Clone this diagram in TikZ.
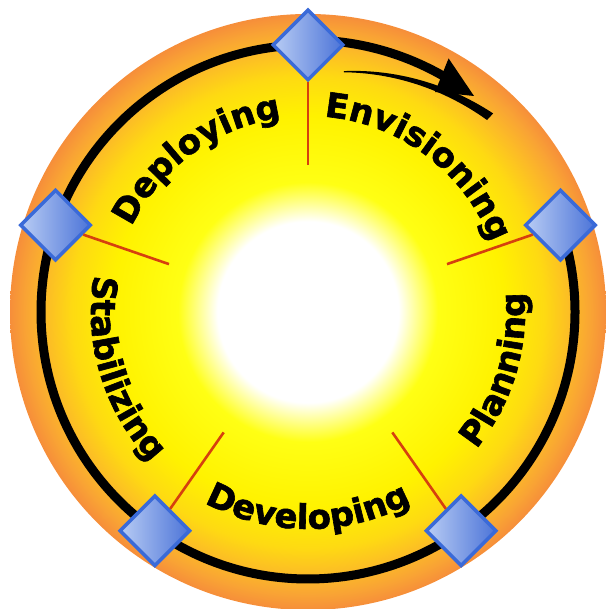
\documentclass[tikz,border=0pt]{standalone}
\usepackage{fontspec}
\newfontfamily\lblfont{DejaVu Sans}[BoldFeatures={FakeBold=1.8}]
\usetikzlibrary{decorations.text,shapes.geometric}
\definecolor{ylwA}{RGB}{255,255,20}
\definecolor{ylwB}{RGB}{255,242,0}
\definecolor{ylwC}{RGB}{254,218,18}
\definecolor{orgA}{RGB}{252,188,38}
\definecolor{orgB}{RGB}{249,164,52}
\definecolor{orgC}{RGB}{246,142,58}
\definecolor{gemL}{RGB}{184,204,244}
\definecolor{gemM}{RGB}{140,168,232}
\definecolor{gemR}{RGB}{76,116,216}
\definecolor{gemLine}{RGB}{58,106,216}
\definecolor{spokeRed}{RGB}{214,64,14}
\pgfdeclareradialshading{discshade}{\pgfpointorigin}{%
  color(0bp)=(white); color(7.6bp)=(white); color(10.9bp)=(ylwA);
  color(16.5bp)=(ylwB); color(19.8bp)=(ylwC); color(22bp)=(orgA);
  color(23.7bp)=(orgB); color(25bp)=(orgC); color(50bp)=(orgC)}
\newcommand\lbl{\lblfont\bfseries\fontsize{34}{34}\selectfont}
\tikzset{
  gem/.style={diamond, minimum width=71pt, minimum height=71pt, inner sep=0pt,
    draw=gemLine, line width=3.5pt, left color=gemL, middle color=gemM, right color=gemR},
  spoke/.style={draw=spokeRed, line width=2.6pt},
  ring/.style={draw=black, line width=9pt},
  arctext/.style={decorate, decoration={text along path, text align=center, text={#1}}}
}
\begin{document}
\begin{tikzpicture}[x=1pt,y=1pt]
\useasboundingbox (0,0) rectangle (605,609);
\coordinate (C) at (308,297);
\shade[shading=discshade] (C) circle (298pt);
% main ring: from the top diamond round the left and bottom to the right diamond
\draw[ring] ([shift={(C)}]90:267pt) arc[start angle=90, end angle=379, radius=267pt];
% tapered start of the ring below the arrow
\fill[black] plot[domain=81.5:47, samples=30]
   ({308+(243.6+27.9*(81.5-\x)/34.5)*cos(\x)}, {297+(243.6+27.9*(81.5-\x)/34.5)*sin(\x)})
  -- plot[domain=47:81.5, samples=30]
   ({308+(242.4+20.1*(81.5-\x)/34.5)*cos(\x)}, {297+(242.4+20.1*(81.5-\x)/34.5)*sin(\x)})
  -- cycle;
% direction arrow
\draw[line width=9pt] ([shift={(C)}]88:272pt) arc[start angle=88, end angle=60, radius=272pt];
\coordinate (h1) at (448.6,550.6);
\coordinate (h2) at (435,517);
\coordinate (tip) at (474,513);
\fill[black] (h1) -- (tip) -- (h2) -- cycle;
% diamonds
\foreach \a/\n in {90/d1, 19/d2, -55/d3, -125/d4, 161/d5}
  \node[gem] (\n) at ([shift={(C)}]\a:267pt) {};
% spokes
\foreach \a/\n in {90/d1, 19/d2, -55/d3, -125/d4, 161/d5}{
  \coordinate (s\n) at ([shift={(C)}]\a:147pt);
  \draw[spoke] (s\n) -- (\n);
}
% labels
\path[arctext={|\lbl|Envisioning}] ([shift={(C)}]90:196pt) arc[start angle=90, end angle=16, radius=196pt];
\path[arctext={|\lbl|Deploying}] ([shift={(C)}]165:196pt) arc[start angle=165, end angle=87, radius=196pt];
\path[arctext={|\lbl|Planning}] ([shift={(C)}]-55:217pt) arc[start angle=-55, end angle=21, radius=217pt];
\path[arctext={|\lbl|Developing}] ([shift={(C)}]-130:217pt) arc[start angle=-130, end angle=-50, radius=217pt];
\path[arctext={|\lbl|Stabilizing}] ([shift={(C)}]155:217pt) arc[start angle=155, end angle=239, radius=217pt];
\end{tikzpicture}
\end{document}
